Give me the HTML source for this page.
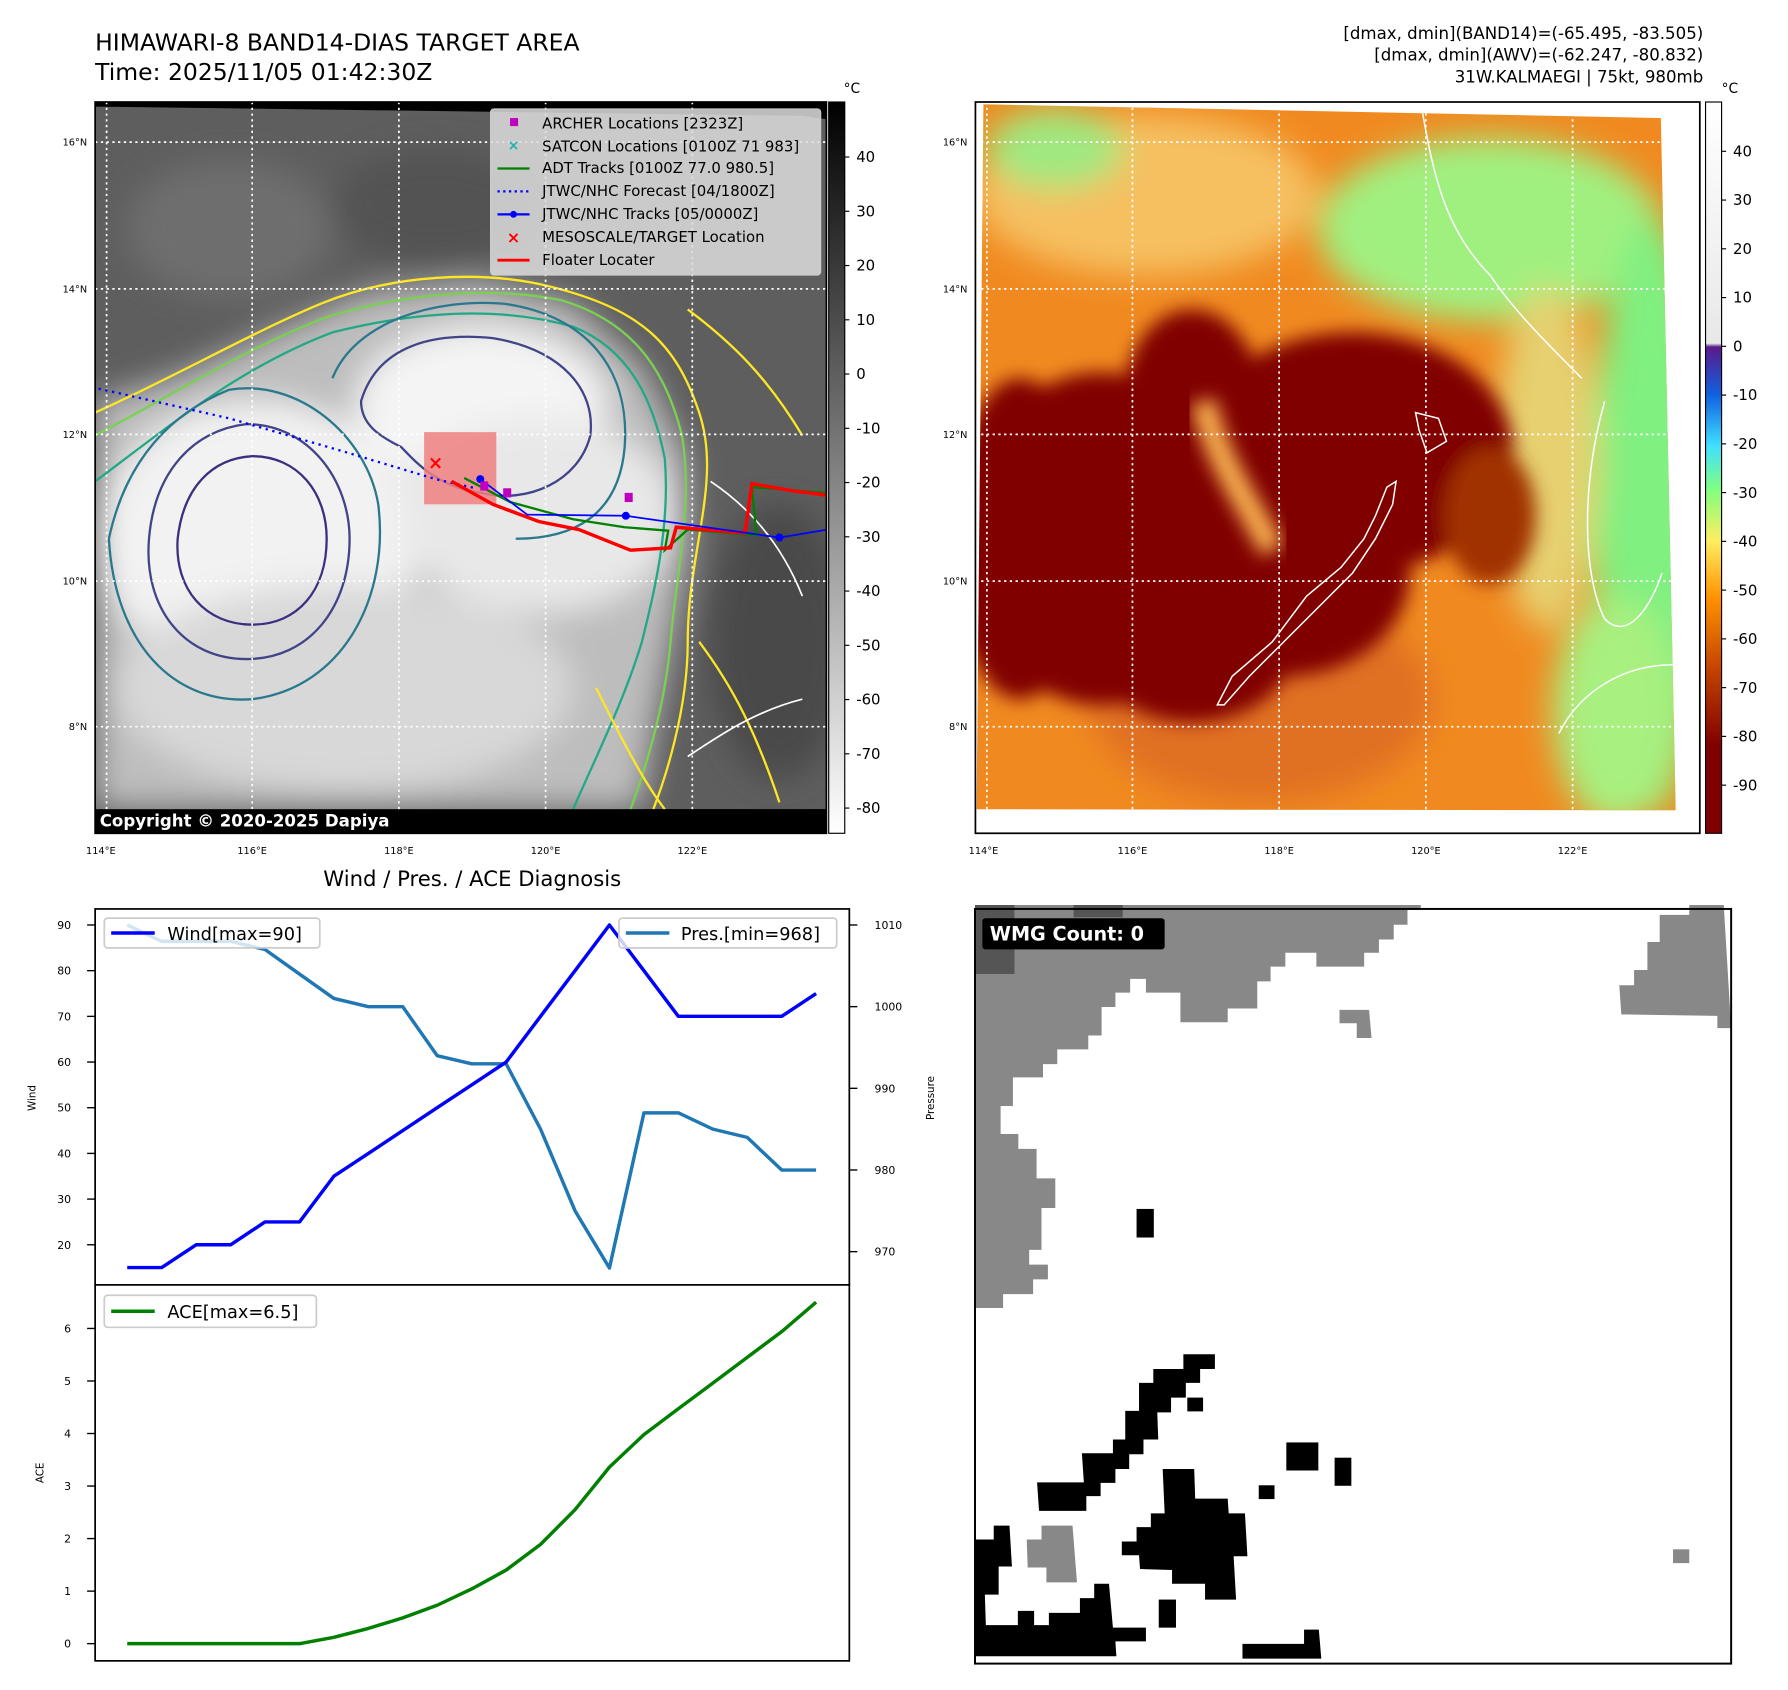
<!DOCTYPE html>
<html><head><meta charset="utf-8"><style>
html,body{margin:0;padding:0;background:#fff;}
svg{display:block;font-family:"DejaVu Sans","Liberation Sans",sans-serif;}
</style></head><body>
<svg id="root" width="1788" height="1690" viewBox="0 0 1788 1690" xmlns="http://www.w3.org/2000/svg">
<defs>
<filter id="b8" x="-20%" y="-20%" width="140%" height="140%"><feGaussianBlur stdDeviation="8"/></filter>
<filter id="b4" x="-20%" y="-20%" width="140%" height="140%"><feGaussianBlur stdDeviation="4"/></filter>
<filter id="b14" x="-30%" y="-30%" width="160%" height="160%"><feGaussianBlur stdDeviation="14"/></filter>
<linearGradient id="cbGray" x1="0" y1="0" x2="0" y2="1"><stop offset="0" stop-color="#000"/><stop offset="1" stop-color="#fff"/></linearGradient>
<linearGradient id="cbAwv" x1="0" y1="0" x2="0" y2="1">
<stop offset="0" stop-color="#ffffff"/><stop offset="0.33" stop-color="#e8e8e8"/>
<stop offset="0.335" stop-color="#5a1a8a"/><stop offset="0.4" stop-color="#1060e0"/>
<stop offset="0.47" stop-color="#40e0ff"/><stop offset="0.53" stop-color="#80ff80"/>
<stop offset="0.6" stop-color="#ffee60"/><stop offset="0.68" stop-color="#ff9000"/>
<stop offset="0.78" stop-color="#c04000"/><stop offset="0.88" stop-color="#800000"/><stop offset="1" stop-color="#800000"/></linearGradient>
<clipPath id="clipTL"><rect x="83" y="89" width="638" height="638"/></clipPath>
<clipPath id="clipTR"><polygon points="858,91 1449,103 1462,707 852,706"/></clipPath>
</defs>

<g transform="scale(1.1462)">
<!-- headers -->
<text x="83" y="44" font-size="20.5">HIMAWARI-8 BAND14-DIAS TARGET AREA</text>
<text x="83" y="70" font-size="20.5">Time: 2025/11/05 01:42:30Z</text>
<g font-size="14.5" text-anchor="end">
<text x="1486" y="34">[dmax, dmin](BAND14)=(-65.495, -83.505)</text>
<text x="1486" y="53">[dmax, dmin](AWV)=(-62.247, -80.832)</text>
<text x="1486" y="72">31W.KALMAEGI | 75kt, 980mb</text>
</g>

<!-- TOP LEFT MAP -->
<g>
<rect x="83" y="89" width="638" height="638" fill="#000"/>
<g clip-path="url(#clipTL)">
<polygon points="83,93 700,101 721,104 721,706 83,706" fill="#5e5e5e"/>
<g filter="url(#b14)">
<ellipse cx="200" cy="200" rx="90" ry="60" fill="#6e6e6e"/>
<ellipse cx="380" cy="180" rx="90" ry="50" fill="#525252"/>
<ellipse cx="680" cy="560" rx="60" ry="120" fill="#4a4a4a"/>
<polygon points="83,350 150,330 250,285 320,255 420,245 500,265 560,320 600,400 600,480 585,560 570,640 560,706 83,706" fill="#bdbdbd"/>
<ellipse cx="225" cy="470" rx="140" ry="120" fill="#f2f2f2"/>
<ellipse cx="420" cy="355" rx="110" ry="70" fill="#f4f4f4"/>
<ellipse cx="470" cy="450" rx="120" ry="85" fill="#e8e8e8"/>
<ellipse cx="300" cy="600" rx="200" ry="90" fill="#d8d8d8"/>
</g>
<g fill="none" stroke-width="2">
<path d="M83,360 C150,330 220,290 280,265 C340,240 420,235 480,250 C560,270 590,300 610,360 C630,420 600,480 600,560 C600,620 580,680 570,706" stroke="#fde725"/>
<path d="M83,380 C150,345 220,300 290,275 C360,255 430,250 490,262 C550,280 580,320 595,380 C605,440 590,500 585,560 C580,620 560,680 550,706" stroke="#7ad151"/>
<path d="M83,420 C150,370 210,320 290,290 C370,270 440,268 500,285 C550,305 570,350 580,400 C585,460 570,520 560,560 C545,610 520,660 500,706" stroke="#22a884"/>
<path d="M95,470 C110,400 150,360 200,340 C260,330 320,380 330,440 C340,520 300,600 220,610 C150,615 100,560 95,470 Z" stroke="#2a788e"/>
<path d="M130,470 C135,410 170,375 215,370 C270,370 305,420 305,470 C305,530 270,575 215,575 C160,575 125,530 130,470 Z" stroke="#414487"/>
<path d="M155,470 C160,425 185,400 220,398 C260,398 285,430 285,470 C285,515 260,545 220,545 C180,545 152,515 155,470 Z" stroke="#3b2f7f"/>
<path d="M315,350 C330,300 380,290 430,295 C490,305 520,340 515,380 C505,420 460,440 420,430 C380,425 360,400 350,390 C330,380 315,370 315,350 Z" stroke="#414487"/>
<path d="M290,330 C310,280 380,260 440,265 C510,275 550,320 545,390 C540,450 500,470 450,470" stroke="#2a788e"/>
<path d="M600,270 C640,300 670,330 700,380 M610,560 C640,600 660,640 680,700 M520,600 C540,640 560,680 580,706" stroke="#fde725"/>
<path d="M620,420 C650,440 680,470 700,520 M600,660 C630,640 660,620 700,610" stroke="#ffffff" stroke-width="1.5"/>
</g>
<g stroke="#fff" stroke-width="1.5" stroke-dasharray="2,3" fill="none">
<path d="M93,89V727M220,89V727M348,89V727M476,89V727M604,89V727M83,124H721M83,252H721M83,379H721M83,507H721M83,634H721"/>
</g>
<rect x="370" y="377" width="63" height="63" fill="#f08080" opacity="0.85"/>
<polyline points="86,339 200,365 300,394 380,418 415,426" fill="none" stroke="#0000ff" stroke-width="2" stroke-dasharray="2,4"/>
<polyline points="405,417 445,438 500,453 545,460 583,463 580,480 600,462 660,467 656,425 721,430" fill="none" stroke="#008000" stroke-width="2"/>
<polyline points="394,420 430,440 470,455 505,462 550,480 585,478 590,460 650,465 656,422 690,428 721,432" fill="none" stroke="#ff0000" stroke-width="3"/>
<polyline points="419,418 460,449 546,450 680,469 722,462" fill="none" stroke="#0000ff" stroke-width="1.5"/>
<g fill="#0000ff"><circle cx="419" cy="418" r="3.5"/><circle cx="546" cy="450" r="3.5"/><circle cx="680" cy="469" r="3.5"/></g>
<g fill="#c000c0"><rect x="419" y="420" width="7" height="8"/><rect x="439" y="426" width="7" height="8"/><rect x="545" y="430" width="7" height="8"/></g>
<text x="380" y="409" font-size="16" fill="#ff0000" text-anchor="middle" font-weight="bold">×</text>
</g>
<rect x="83" y="706" width="638" height="21" fill="#000"/>
<text x="87" y="721" font-size="14.5" font-weight="bold" fill="#fff">Copyright © 2020-2025 Dapiya</text>
<rect x="83" y="89" width="638" height="638" fill="none" stroke="#000" stroke-width="1.5"/>
</g>
<g>
<rect x="428" y="95" width="288" height="145" rx="3" fill="#ddd" fill-opacity="0.85" stroke="#ccc"/>
<rect x="445" y="103" width="7" height="7" fill="#c000c0"/>
<text x="448" y="131" font-size="12" fill="#20b2aa" text-anchor="middle" font-weight="bold">×</text>
<line x1="434" y1="147" x2="462" y2="147" stroke="#008000" stroke-width="2"/>
<line x1="434" y1="167" x2="462" y2="167" stroke="#0000ff" stroke-width="2" stroke-dasharray="2,3"/>
<line x1="434" y1="187" x2="462" y2="187" stroke="#0000ff" stroke-width="2"/><circle cx="448" cy="187" r="3" fill="#0000ff"/>
<text x="448" y="212" font-size="14" fill="#ff0000" text-anchor="middle" font-weight="bold">×</text>
<line x1="434" y1="227" x2="462" y2="227" stroke="#ff0000" stroke-width="2.5"/>
<g font-size="13" fill="#000">
<text x="473" y="112">ARCHER Locations [2323Z]</text>
<text x="473" y="132">SATCON Locations [0100Z 71 983]</text>
<text x="473" y="151">ADT Tracks [0100Z 77.0 980.5]</text>
<text x="473" y="171">JTWC/NHC Forecast [04/1800Z]</text>
<text x="473" y="191">JTWC/NHC Tracks [05/0000Z]</text>
<text x="473" y="211">MESOSCALE/TARGET Location</text>
<text x="473" y="231">Floater Locater</text>
</g>
</g>
<g>
<rect x="723" y="89" width="14" height="638" fill="url(#cbGray)" stroke="#000"/>
<text x="736" y="81" font-size="12">°C</text>
<g font-size="13" id="cbTL"></g>
</g>
<g font-size="8.5">
<text x="76" y="127" text-anchor="end">16°N</text><text x="76" y="255" text-anchor="end">14°N</text><text x="76" y="382" text-anchor="end">12°N</text><text x="76" y="510" text-anchor="end">10°N</text><text x="76" y="637" text-anchor="end">8°N</text>
<text x="88" y="745" text-anchor="middle">114°E</text><text x="220" y="745" text-anchor="middle">116°E</text><text x="348" y="745" text-anchor="middle">118°E</text><text x="476" y="745" text-anchor="middle">120°E</text><text x="604" y="745" text-anchor="middle">122°E</text>
</g>

<!-- TOP RIGHT MAP -->
<g>
<rect x="851" y="89" width="632" height="638" fill="#fff"/>
<g clip-path="url(#clipTR)">
<rect x="851" y="89" width="640" height="640" fill="#f08a20"/>
<g filter="url(#b14)">
<ellipse cx="1000" cy="170" rx="150" ry="70" fill="#f6c060"/>
<ellipse cx="1300" cy="200" rx="150" ry="80" fill="#a0f080"/>
<ellipse cx="1440" cy="450" rx="50" ry="260" fill="#80f080"/>
<ellipse cx="1410" cy="620" rx="55" ry="100" fill="#a8f080"/>
<ellipse cx="920" cy="130" rx="60" ry="35" fill="#a0e880"/>
<ellipse cx="1350" cy="400" rx="45" ry="150" fill="#e6d070"/>
<ellipse cx="1100" cy="610" rx="150" ry="90" fill="#e07020"/>
</g>
<g filter="url(#b8)" fill="#800000">
<ellipse cx="960" cy="470" rx="120" ry="145"/>
<ellipse cx="890" cy="470" rx="60" ry="140"/>
<ellipse cx="1180" cy="395" rx="140" ry="105"/>
<ellipse cx="1120" cy="500" rx="110" ry="90"/>
<ellipse cx="1040" cy="350" rx="60" ry="80"/>
<ellipse cx="1040" cy="560" rx="90" ry="70"/>
<ellipse cx="1300" cy="450" rx="40" ry="60" fill="#a03000"/>
</g>
<path d="M1050,350 C1060,400 1090,440 1110,480" stroke="#f8b050" stroke-width="22" fill="none" filter="url(#b8)"/>
<g stroke="#fff" stroke-width="1.5" stroke-dasharray="2,3" fill="none">
<path d="M861,89V727M988,89V727M1116,89V727M1244,89V727M1372,89V727M851,124H1483M851,252H1483M851,379H1483M851,507H1483M851,634H1483"/>
</g>
<g stroke="#fff" stroke-width="1.3" fill="none">
<path d="M1062,615 L1075,590 L1110,560 L1140,520 L1170,495 L1190,470 L1200,450 L1210,425 L1218,420 L1215,440 L1200,470 L1180,500 L1150,530 L1120,560 L1090,590 L1068,615 Z"/>
<path d="M1235,360 L1255,365 L1262,385 L1245,395 L1238,375 Z"/>
<path d="M1240,92 C1250,150 1260,200 1300,240 C1320,270 1350,300 1380,330"/>
<path d="M1400,350 C1380,420 1380,500 1400,540 C1420,560 1440,530 1450,500"/>
<path d="M1360,640 C1380,600 1420,580 1460,580"/>
</g>
</g>
<rect x="851" y="89" width="632" height="638" fill="none" stroke="#000" stroke-width="1.5"/>
</g>
<g>
<rect x="1488" y="89" width="14" height="638" fill="url(#cbAwv)" stroke="#000"/>
<text x="1502" y="81" font-size="12">°C</text>
<g font-size="13" id="cbTR"></g>
</g>
<g font-size="8.5">
<text x="844" y="127" text-anchor="end">16°N</text><text x="844" y="255" text-anchor="end">14°N</text><text x="844" y="382" text-anchor="end">12°N</text><text x="844" y="510" text-anchor="end">10°N</text><text x="844" y="637" text-anchor="end">8°N</text>
<text x="858" y="745" text-anchor="middle">114°E</text><text x="988" y="745" text-anchor="middle">116°E</text><text x="1116" y="745" text-anchor="middle">118°E</text><text x="1244" y="745" text-anchor="middle">120°E</text><text x="1372" y="745" text-anchor="middle">122°E</text>
</g>

<!-- BOTTOM LEFT CHART -->
<text x="412" y="773" font-size="18.5" text-anchor="middle">Wind / Pres. / ACE Diagnosis</text>
<g id="chart">
<rect x="83" y="793" width="658" height="328" fill="#fff" stroke="#000" stroke-width="1.5"/>
<rect x="83" y="1121" width="658" height="328" fill="#fff" stroke="#000" stroke-width="1.5"/>
<text transform="translate(31,958) rotate(-90)" font-size="9" text-anchor="middle">Wind</text>
<text transform="translate(815,958) rotate(-90)" font-size="9" text-anchor="middle">Pressure</text>
<text transform="translate(38,1285) rotate(-90)" font-size="9" text-anchor="middle">ACE</text>
<g id="marks"></g>
<g>
<rect x="91" y="801" width="188" height="26" rx="3" fill="#fff" fill-opacity="0.8" stroke="#ccc" stroke-width="1.5"/>
<line x1="97" y1="814" x2="135" y2="814" stroke="#0000ff" stroke-width="3"/>
<text x="146" y="820" font-size="15.5">Wind[max=90]</text>
</g>
<g>
<rect x="540" y="801" width="190" height="26" rx="3" fill="#fff" fill-opacity="0.8" stroke="#ccc" stroke-width="1.5"/>
<line x1="546" y1="814" x2="584" y2="814" stroke="#1f77b4" stroke-width="3"/>
<text x="594" y="820" font-size="15.5">Pres.[min=968]</text>
</g>
<g>
<rect x="91" y="1130" width="185" height="28" rx="3" fill="#fff" fill-opacity="0.8" stroke="#ccc" stroke-width="1.5"/>
<line x1="97" y1="1144" x2="135" y2="1144" stroke="#008000" stroke-width="3"/>
<text x="146" y="1150" font-size="15.5">ACE[max=6.5]</text>
</g>
</g>
</g>

<!-- BOTTOM RIGHT WMG -->
<g transform="translate(975,905) scale(0.4926)">
<rect x="0" y="8" width="1535" height="1532" fill="#fff"/>
<polygon fill="#888" points="0,0 905,0 905,10 878,10 878,40 850,40 850,70 820,70 820,97 790,97 790,125 693,125 693,97 630,97 630,125 600,125 600,155 573,155 573,210 513,210 513,238 417,238 417,178 347,178 347,150 315,150 315,178 285,178 285,207 257,207 257,265 230,265 230,293 167,293 167,323 138,323 138,350 77,350 77,408 52,408 52,465 88,465 88,495 125,495 125,555 163,555 163,615 135,615 135,700 110,700 110,730 148,730 148,760 118,760 118,790 57,790 57,818 0,818"/>
<rect x="0" y="0" width="80" height="140" fill="#555"/><rect x="200" y="0" width="100" height="25" fill="#555"/>
<polygon fill="#888" points="1390,20 1450,20 1450,0 1520,0 1535,250 1507,250 1507,225 1312,222 1308,163 1338,163 1338,132 1365,132 1365,75 1390,75"/>
<polygon fill="#888" points="740,213 800,213 805,270 775,270 775,240 740,240"/>
<polygon fill="#888" points="135,1260 198,1260 207,1375 145,1375 145,1345 107,1345 105,1288 135,1288"/>
<rect x="1417" y="1308" width="33" height="28" fill="#888"/>
<g fill="#000">
<rect x="328" y="617" width="35" height="58"/>
<polygon points="423,912 487,912 487,942 457,942 457,970 428,970 428,1000 398,1000 398,1030 370,1030 372,1085 342,1085 342,1115 313,1115 313,1145 285,1145 285,1173 255,1173 255,1200 226,1200 226,1230 130,1230 126,1172 221,1172 217,1113 280,1113 280,1085 305,1085 305,1027 333,1027 333,970 362,970 362,942 423,942"/>
<rect x="431" y="1000" width="32" height="28"/>
<rect x="632" y="1091" width="65" height="57"/>
<rect x="730" y="1122" width="34" height="57"/>
<rect x="576" y="1178" width="32" height="28"/>
<polygon points="381,1145 445,1145 447,1205 513,1205 515,1235 548,1235 553,1322 525,1322 530,1410 467,1410 467,1378 400,1378 400,1350 335,1348 333,1320 298,1320 298,1292 328,1292 328,1263 357,1263 357,1235 385,1235"/>
<polygon points="0,1288 38,1288 38,1260 70,1260 75,1343 48,1343 48,1400 20,1400 22,1462 87,1462 87,1433 120,1433 120,1462 150,1462 150,1437 213,1437 213,1407 242,1407 242,1378 272,1378 280,1467 347,1467 347,1495 285,1495 287,1525 0,1525"/>
<rect x="373" y="1410" width="35" height="57"/>
<polygon points="543,1500 668,1500 668,1471 698,1471 703,1530 543,1530"/>
</g>
<rect x="0" y="8" width="1535" height="1532" fill="none" stroke="#000" stroke-width="4"/>
<rect x="15" y="27" width="370" height="63" rx="6" fill="#000"/>
<text x="30" y="72" font-size="39" font-weight="bold" fill="#fff">WMG Count: 0</text>
</g>
</svg>
<script>
const windValues = [15,15,20,20,25,25,35,40,45,50,55,60,70,80,90,80,70,70,70,70,75];
const presValues = [1010,1008,1008,1008,1007,1004,1001,1000,1000,994,993,993,985,975,968,987,987,985,984,980,980];
const aceValues = [0,0,0,0,0,0,0.12,0.29,0.49,0.73,1.04,1.4,1.89,2.55,3.36,3.98,4.47,4.96,5.45,5.94,6.5];
const windTicks = [20,30,40,50,60,70,80,90];
const presTicks = [970,980,990,1000,1010];
const aceTicks = [0,1,2,3,4,5,6];
const bandTicks = [40,30,20,10,0,-10,-20,-30,-40,-50,-60,-70,-80];
const awvTicks = [40,30,20,10,0,-10,-20,-30,-40,-50,-60,-70,-80,-90];

const NS = 'http://www.w3.org/2000/svg';
function xIdx(i){ return 111 + i * (601 / (windValues.length - 1)); }
function yWind(v){ return 807 + (90 - v) * (279 / 70); }
function yPres(v){ return 807 + (1010 - v) * (285 / 40); }
function yAce(v){ return 1434 - v * (275 / 6); }
function yBand(v){ return 137 + (40 - v) * (568 / 120); }
function yAwv(v){ return 132 + (40 - v) * (553 / 130); }

const marks = document.getElementById('marks');
function mk(tag, attrs, parent){ const e = document.createElementNS(NS, tag); for (const k in attrs) e.setAttribute(k, attrs[k]); parent.appendChild(e); return e; }
function line(vals, yf, color, name){
  const d = vals.map((v,i)=> (i?'L':'M') + xIdx(i).toFixed(1) + ',' + yf(v).toFixed(1)).join('');
  const p = mk('path', {d:d, fill:'none', stroke:color, 'stroke-width':3, 'stroke-linejoin':'round'}, marks);
  
  
}
line(presValues, yPres, '#1f77b4', 'pressure-line');
line(windValues, yWind, '#0000ff', 'wind-line');
line(aceValues, yAce, '#008000', 'ace-line');

function ticks(arr, yf, side, name, parent, fs){
  arr.forEach(t => {
    const y = yf(t);
    const g = mk('g', {}, parent);
    
    
    if (side === 'left') {
      mk('line', {x1:76, x2:83, y1:y, y2:y, stroke:'#000', 'stroke-width':1.2}, g);
      const tx = mk('text', {x:62, y:y+3.5, 'font-size':fs, 'text-anchor':'end'}, g); tx.textContent = t;
    } else if (side === 'right') {
      mk('line', {x1:741, x2:748, y1:y, y2:y, stroke:'#000', 'stroke-width':1.2}, g);
      const tx = mk('text', {x:763, y:y+3.5, 'font-size':fs}, g); tx.textContent = t;
    } else {
      const x0 = side;
      mk('line', {x1:x0, x2:x0+4, y1:y, y2:y, stroke:'#000', 'stroke-width':1}, g);
      const tx = mk('text', {x:x0+10, y:y+4.5, 'font-size':fs}, g); tx.textContent = t;
    }
  });
}
ticks(windTicks, yWind, 'left', 'wind-tick', marks, 9.5);
ticks(presTicks, yPres, 'right', 'pressure-tick', marks, 9.5);
ticks(aceTicks, yAce, 'left', 'ace-tick', marks, 9.5);
ticks(bandTicks, yBand, 737, 'band14-colorbar-tick', document.getElementById('cbTL'), 13);
ticks(awvTicks, yAwv, 1502, 'awv-colorbar-tick', document.getElementById('cbTR'), 13);
</script>
</body></html>
